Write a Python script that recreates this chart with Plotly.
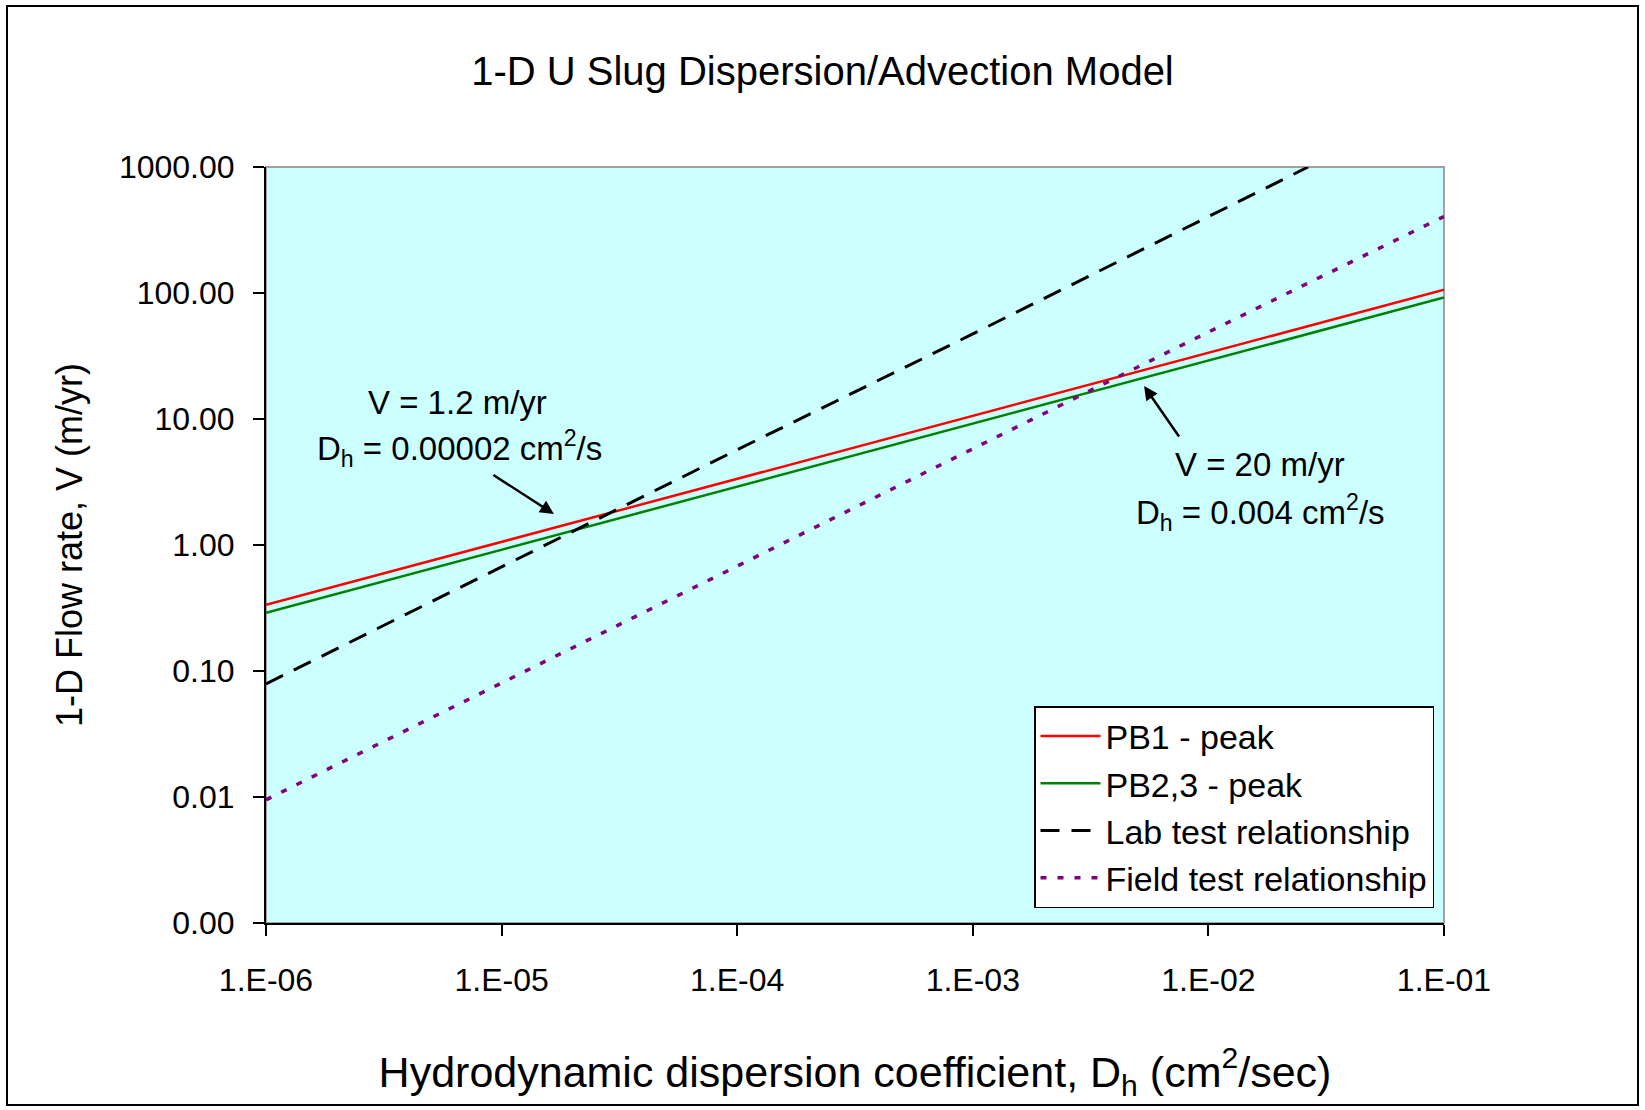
import plotly.graph_objects as go

# ---- data ----
dh_decades = [1e-6, 1e-5, 1e-4, 1e-3, 1e-2, 1e-1]
pb1_peak = [0.335, 1.06, 3.35, 10.6, 33.5, 106]
pb23_peak = [0.29, 0.92, 2.9, 9.2, 29, 92]
lab_x = [1e-6, 1e-5, 1e-4, 1e-3, 1e-2, 0.0265]
lab_y = [0.079, 0.67, 5.7, 47.3, 400, 1000]
field_y = [0.0095, 0.08, 0.68, 5.8, 49, 405]

x_tickvals = [1e-6, 1e-5, 1e-4, 1e-3, 1e-2, 1e-1]
x_ticktext = ["1.E-06", "1.E-05", "1.E-04", "1.E-03", "1.E-02", "1.E-01"]
y_tickvals = [0.001, 0.01, 0.1, 1, 10, 100, 1000]
y_ticktext = ["0.00", "0.01", "0.10", "1.00", "10.00", "100.00", "1000.00"]

FONT = "Liberation Sans, Arial, sans-serif"

fig = go.Figure()
fig.add_trace(go.Scatter(x=dh_decades, y=pb1_peak, mode="lines", name="PB1 - peak",
                         legendgroup="a", line=dict(color="#FF0000", width=2.5)))
fig.add_trace(go.Scatter(x=dh_decades, y=pb23_peak, mode="lines", name="PB2,3 - peak",
                         legendgroup="b", line=dict(color="#008000", width=2.5)))
fig.add_trace(go.Scatter(x=lab_x, y=lab_y, mode="lines", name="Lab test relationship",
                         legendgroup="c", line=dict(color="#000000", width=3, dash="19px,12px")))
fig.add_trace(go.Scatter(x=dh_decades, y=field_y, mode="lines", name="Field test relationship",
                         legendgroup="d", line=dict(color="#800080", width=3.5, dash="6px,11px")))

W, H = 1645, 1110
L, R, T, B = 266, 1444, 167, 923
pw, ph = R - L, B - T

def px(xp):
    return (xp - L) / pw

def py(yp):
    return (B - yp) / ph

def label(text, xp, yp):
    return dict(text=text, x=px(xp), y=py(yp), xref="paper", yref="paper",
                xanchor="center", yanchor="middle", showarrow=False,
                font=dict(size=33, color="black", family=FONT))

annotations = [
    label("V = 1.2 m/yr", 457, 402),
    label("D<sub>h</sub> = 0.00002 cm<sup>2</sup>/s", 459, 448),
    label("V = 20 m/yr", 1260, 464),
    label("D<sub>h</sub> = 0.004 cm<sup>2</sup>/s", 1260, 512),
    dict(text="", x=-4.778, y=0.246, xref="x", yref="y", showarrow=True,
         ax=-62, ay=-40, arrowhead=2, arrowsize=1.1, arrowwidth=2.5, arrowcolor="black"),
    dict(text="", x=-2.273, y=1.262, xref="x", yref="y", showarrow=True,
         ax=36, ay=52, arrowhead=2, arrowsize=1.1, arrowwidth=2.5, arrowcolor="black"),
]

shapes = [
    dict(type="rect", xref="paper", yref="paper", x0=0, x1=1, y0=0, y1=1,
         line=dict(color="#A0A0A0", width=2), layer="below"),
    dict(type="rect", xref="paper", yref="paper",
         x0=px(7), x1=px(1638), y0=py(1105), y1=py(6),
         line=dict(color="black", width=2), layer="below"),
]

fig.update_layout(
    width=W, height=H,
    margin=dict(l=L, r=W - R, t=T, b=H - B),
    paper_bgcolor="white",
    plot_bgcolor="#CCFFFF",
    font=dict(family=FONT, color="black"),
    title=dict(text="1-D U Slug Dispersion/Advection Model", x=0.5, xref="container",
               y=1 - 71 / H, yref="container", xanchor="center", yanchor="middle",
               font=dict(size=40, family=FONT, color="black")),
    xaxis=dict(type="log", range=[-6, -1], tickvals=x_tickvals, ticktext=x_ticktext,
               showgrid=False, zeroline=False, showline=True, linecolor="black", linewidth=2,
               ticks="outside", ticklen=11, tickwidth=1.5, tickcolor="black",
               tickfont=dict(size=32, family=FONT, color="black"), ticklabelstandoff=17,
               title=dict(text="Hydrodynamic dispersion coefficient, D<sub>h</sub> (cm<sup>2</sup>/sec)",
                          font=dict(size=43, family=FONT, color="black"), standoff=59)),
    yaxis=dict(type="log", range=[-3, 3], tickvals=y_tickvals, ticktext=y_ticktext,
               showgrid=False, zeroline=False, showline=True, linecolor="black", linewidth=2,
               ticks="outside", ticklen=11, tickwidth=1.5, tickcolor="black",
               tickfont=dict(size=32, family=FONT, color="black"), ticklabelstandoff=12,
               title=dict(text="1-D Flow rate, V (m/yr)",
                          font=dict(size=36, family=FONT, color="black"), standoff=25)),
    legend=dict(x=px(1434), y=py(908), xanchor="right", yanchor="bottom",
                bgcolor="white", bordercolor="black", borderwidth=1.5,
                font=dict(size=34, family=FONT, color="black"),
                traceorder="grouped", tracegroupgap=0, itemwidth=60),
    annotations=annotations,
    shapes=shapes,
)

fig.write_html("out.html")
